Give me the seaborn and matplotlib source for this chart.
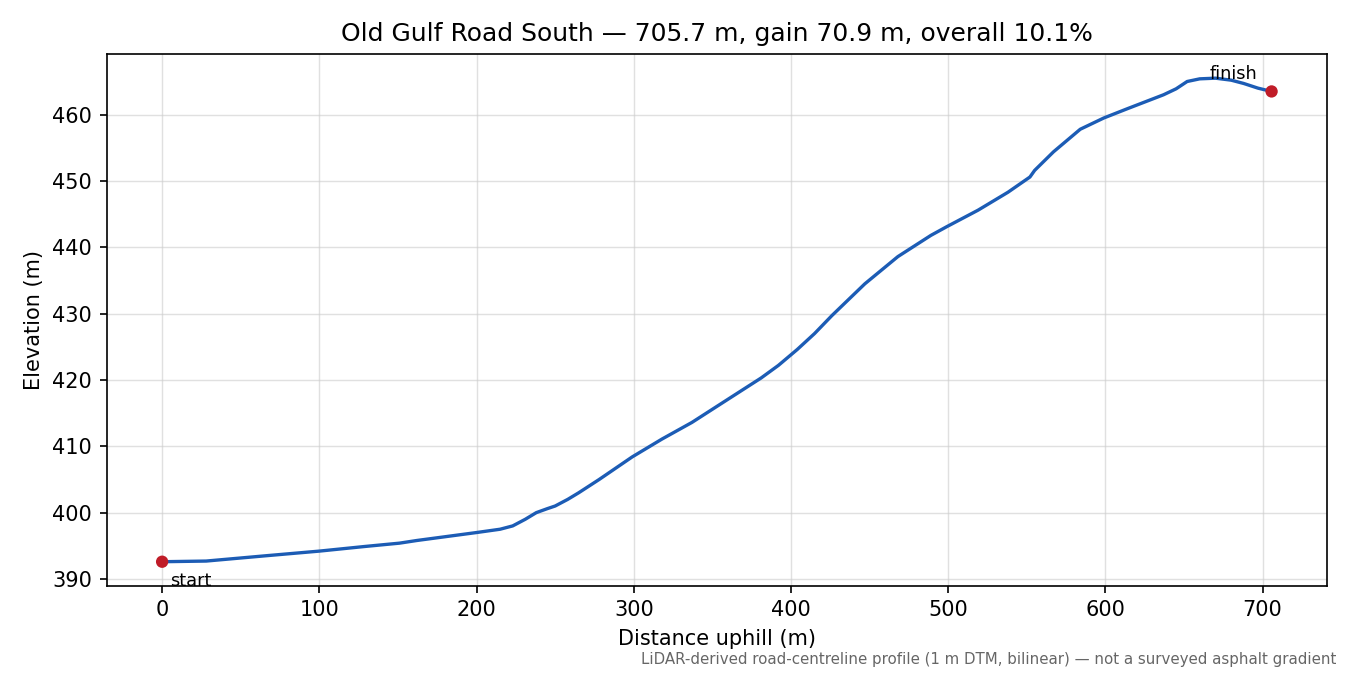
import pandas as pd
import matplotlib
matplotlib.use("Agg")
import matplotlib.pyplot as plt
import seaborn as sns

# Profile (distance uphill, elevation)
dist = [0, 28, 66, 100, 129, 151, 162, 200, 215, 223, 231, 238, 245, 250,
        258, 265, 278, 299, 318, 337, 358, 381, 392, 404, 415, 426, 447,
        468, 489, 499, 519, 538, 552, 555, 567, 584, 599, 614, 637, 645,
        652, 660, 670, 680, 688, 697, 705.7]
elev = [392.6, 392.7, 393.5, 394.2, 394.9, 395.4, 395.8, 397.0, 397.5, 398.0,
        399.0, 400.0, 400.6, 401.0, 402.0, 403.0, 405.0, 408.4, 411.1, 413.6,
        416.8, 420.3, 422.2, 424.6, 427.0, 429.7, 434.5, 438.6, 441.8, 443.1,
        445.6, 448.3, 450.6, 451.6, 454.4, 457.8, 459.5, 460.9, 463.0, 463.9,
        465.0, 465.4, 465.5, 465.2, 464.7, 464.0, 463.5]
end_labels = ["start", "finish"]

title = "Old Gulf Road South \u2014 705.7 m, gain 70.9 m, overall 10.1%"
note = ("LiDAR-derived road-centreline profile (1 m DTM, bilinear) "
        "\u2014 not a surveyed asphalt gradient")

df = pd.DataFrame({"dist": dist, "elev": elev})
ends = df.iloc[[0, -1]].copy()
ends["label"] = end_labels

sns.set_style("ticks")
plt.rcParams["font.family"] = ["DejaVu Sans"]
plt.rcParams["text.color"] = "black"
plt.rcParams["axes.labelcolor"] = "black"

fig, ax = plt.subplots(figsize=(9, 4.5), dpi=150)
fig.subplots_adjust(left=0.079, right=0.983, bottom=0.132, top=0.92)

sns.lineplot(data=df, x="dist", y="elev", ax=ax, color="#1c5cb5",
             linewidth=1.6, sort=False)
sns.scatterplot(data=ends, x="dist", y="elev", ax=ax, color="#c01c28",
                s=35, edgecolor="none", zorder=5)

ax.annotate("start", (ends["dist"].iloc[0], ends["elev"].iloc[0]),
            xytext=(4, -5), textcoords="offset points",
            ha="left", va="top", fontsize=8.5)
ax.annotate("finish", (ends["dist"].iloc[1], ends["elev"].iloc[1]),
            xytext=(-7, 4), textcoords="offset points",
            ha="right", va="bottom", fontsize=8.5)

ax.grid(True, color="#cccccc", alpha=0.6, linewidth=0.7)
for s in ax.spines.values():
    s.set_color("black")
    s.set_linewidth(0.8)
ax.tick_params(colors="black", labelsize=10)

ax.set_title(title, fontsize=12)
ax.set_xlabel("Distance uphill (m)", fontsize=10)
ax.set_ylabel("Elevation (m)", fontsize=10)

fig.text(0.99, 0.012, note, ha="right", va="bottom", fontsize=7.2,
         color="#666666")

fig.savefig("out.png", dpi=150)
